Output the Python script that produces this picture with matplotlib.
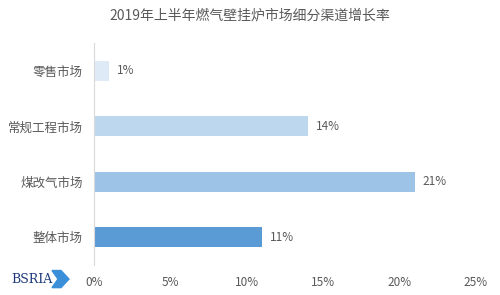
import matplotlib.pyplot as plt
from matplotlib.patches import Polygon
from matplotlib.ticker import FuncFormatter

plt.rcParams['font.family'] = ['Noto Sans CJK SC', 'DejaVu Sans']

# 数据
categories = ['零售市场', '常规工程市场', '煤改气市场', '整体市场']
growth = [1, 14, 21, 11]
colors = ['#DEEBF7', '#BDD7EE', '#9DC3E6', '#5B9BD5']
title = '2019年上半年燃气壁挂炉市场细分渠道增长率'
text_color = '#595959'

fig = plt.figure(figsize=(5, 2.95), dpi=100)
ax = fig.add_axes([0.188, 0.102, 0.764, 0.752])

ypos = list(range(len(categories)))
ax.barh(ypos, growth, height=0.36, color=colors)
for y, v in zip(ypos, growth):
    ax.text(v + 0.5, y, f'{v}%', va='center', ha='left', fontsize=8.5, color=text_color)

ax.set_xlim(0, 25)
ax.set_ylim(3.5, -0.5)
ax.set_xticks([0, 5, 10, 15, 20, 25])
ax.xaxis.set_major_formatter(FuncFormatter(lambda x, p: f'{int(x)}%'))
ax.set_yticks(ypos)
ax.set_yticklabels(categories)
ax.tick_params(axis='both', length=0, labelsize=8.5, colors=text_color)
ax.tick_params(axis='x', pad=8)
ax.tick_params(axis='y', labelsize=9, pad=8)
for s in ['top', 'right', 'bottom']:
    ax.spines[s].set_visible(False)
ax.spines['left'].set_color('#D9D9D9')

fig.text(0.5, 0.948, title, ha='center', va='center', fontsize=10, color=text_color)

# BSRIA 标志
fig.patches.append(Polygon([[0.104, 0.025], [0.122, 0.025], [0.138, 0.054], [0.122, 0.083],
                            [0.104, 0.083], [0.116, 0.054]], closed=True,
                           transform=fig.transFigure, color='#3A8FD8', zorder=1))
fig.text(0.022, 0.054, 'BSRIA', ha='left', va='center', fontsize=9,
         family='DejaVu Serif', color='#1F3A7A', zorder=2)

fig.savefig('out.png', dpi=100)
